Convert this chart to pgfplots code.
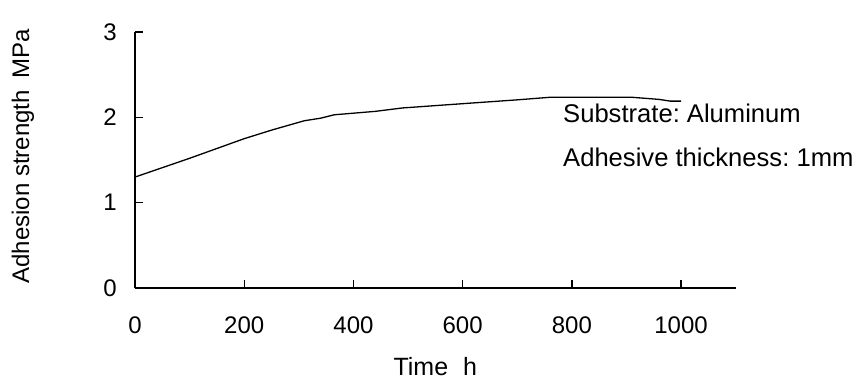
\documentclass[border=0pt]{standalone}
\usepackage{fontspec}
\setmainfont{Liberation Sans}
\usepackage{pgfplots}
\pgfplotsset{compat=1.18}
\frenchspacing
\begin{document}
\begin{tikzpicture}
\useasboundingbox (0,0) rectangle (863pt,381pt);
\begin{axis}[
  scale only axis, width=600.7pt, height=256pt,
  at={(135pt,93pt)}, anchor=south west,
  xmin=0, xmax=1100, ymin=0, ymax=3,
  axis x line*=bottom, axis y line*=left,
  xtick={0,200,400,600,800,1000}, ytick={0,1,2,3},
  tick align=inside, major tick length=8pt,
  every tick/.style={black, line width=1.3pt},
  axis line style={black, line width=1.3pt},
  /pgf/number format/assume math mode=true,
  /pgf/number format/1000 sep={},
  ticklabel style={font=\fontsize{24}{28}\selectfont, inner sep=0pt},
  xticklabel style={anchor=base, yshift=-45.3pt},
  yticklabel style={anchor=east, xshift=-18pt},
  xlabel={Time\hspace{0.6em}h},
  ylabel={Adhesion strength\hspace{0.5em}MPa},
  xlabel style={font=\fontsize{25}{30}\selectfont, inner sep=0pt, at={(axis description cs:0.5,-0.34)}, anchor=base},
  ylabel style={font=\fontsize{24}{28}\selectfont, inner sep=0pt, at={(axis description cs:-0.1865,0.515)}, anchor=center},
]
\addplot[black, line width=1.3pt] coordinates {
  (0,1.30) (100,1.52) (200,1.75) (250,1.85) (310,1.96) (340,1.99)
  (365,2.03) (440,2.07) (490,2.11) (600,2.16) (700,2.205) (760,2.235)
  (910,2.235) (960,2.21) (980,2.19) (1000,2.19)
};
\end{axis}
\node[anchor=base west, inner sep=0pt, font=\fontsize{25.6}{30}\selectfont] at (563pt,258.3pt) {Substrate: Aluminum};
\node[anchor=base west, inner sep=0pt, font=\fontsize{25.6}{30}\selectfont] at (563pt,214.3pt) {Adhesive thickness: 1mm};
\end{tikzpicture}
\end{document}
